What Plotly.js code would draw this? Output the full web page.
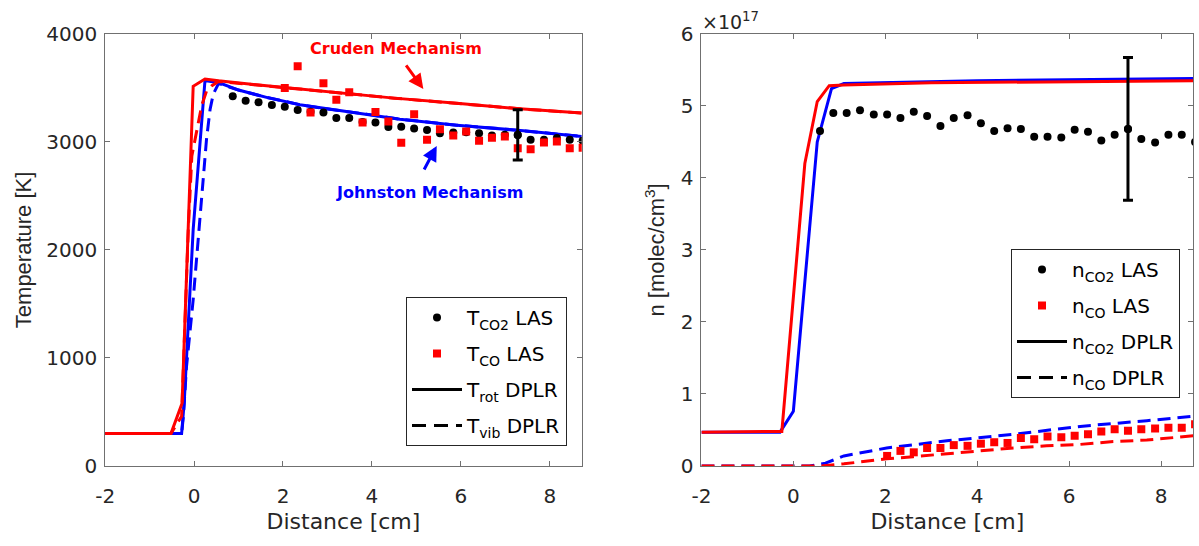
<!DOCTYPE html>
<html><head><meta charset="utf-8">
<script src="https://cdn.plot.ly/plotly-3.0.1.min.js"></script>
<style>html,body{margin:0;padding:0;background:#fff}#chart{width:1199px;height:546px}</style>
</head><body><div id="chart"></div>
<script>
// ---------- Left panel: temperature ----------
const distTCO2 = [0.87,1.16,1.45,1.75,2.04,2.33,2.62,2.91,3.20,3.49,3.79,4.08,4.37,4.66,4.95,5.24,5.53,5.83,6.12,6.41,6.70,6.99,7.28,7.57,7.87,8.16,8.45,8.74];
const tempCO2LAS = [3422,3381,3366,3341,3326,3295,3280,3273,3220,3220,3185,3180,3137,3140,3125,3109,3081,3088,3090,3081,3060,3065,3063,3019,3019,3035,3019,3010];
const distTCO = [2.04,2.33,2.62,2.91,3.20,3.49,3.79,4.08,4.37,4.66,4.95,5.24,5.53,5.83,6.12,6.41,6.70,6.99,7.28,7.57,7.87,8.16,8.45,8.74];
const tempCOLAS = [3499,3700,3273,3543,3390,3459,3180,3276,3188,2992,3256,3019,3118,3060,3097,3010,3038,3050,2942,2933,2995,3004,2942,2946];
const tErrX = [7.28], tErrY = [3063], tErrUp = [235], tErrDown = [230];

const johnRotX = [-2,-0.28,-0.22,-0.02,0.245,0.58,1.0,1.63,2.38,3.13,3.88,4.63,5.91,7.41,8.72];
const johnRotT = [300,300,600,2190,3567,3545,3480,3412,3344,3297,3257,3210,3155,3103,3050];
const johnVibX = [-2,-0.28,-0.24,-0.17,-0.02,0.13,0.21,0.28,0.36,0.43,0.55,1.0,1.63,2.38,3.13,3.88,4.63,5.91,7.41,8.72];
const johnVibT = [300,300,460,920,1540,2300,2650,3025,3300,3440,3540,3480,3412,3344,3297,3257,3210,3155,3103,3050];
const crudRotX = [-2,-0.52,-0.27,-0.02,0.245,0.55,1.63,3.13,4.5,5.91,7.41,8.72];
const crudRotT = [300,300,580,3515,3582,3565,3520,3459,3405,3357,3304,3267];
const crudVibX = [-2,-0.52,-0.28,-0.13,-0.05,0.06,0.17,0.28,0.40,0.55,1.63,3.13,4.5,5.91,7.41,8.72];
const crudVibT = [300,300,460,2190,2870,3090,3335,3470,3520,3560,3520,3459,3405,3357,3304,3267];

// ---------- Right panel: number density (x 1e17) ----------
const distNCO2 = [0.58,0.87,1.16,1.45,1.75,2.04,2.33,2.62,2.91,3.20,3.49,3.79,4.08,4.37,4.66,4.95,5.24,5.53,5.83,6.12,6.41,6.70,6.99,7.28,7.57,7.87,8.16,8.45,8.74];
const nCO2LAS = [4.65,4.90,4.90,4.94,4.88,4.88,4.83,4.92,4.86,4.72,4.83,4.87,4.76,4.65,4.69,4.68,4.57,4.57,4.56,4.67,4.64,4.52,4.60,4.68,4.54,4.49,4.60,4.60,4.50];
const distNCO = [2.04,2.33,2.62,2.91,3.20,3.49,3.79,4.08,4.37,4.66,4.95,5.24,5.53,5.83,6.12,6.41,6.70,6.99,7.28,7.57,7.87,8.16,8.45,8.74];
const nCOLAS = [0.14,0.21,0.19,0.25,0.25,0.29,0.28,0.31,0.33,0.32,0.39,0.37,0.41,0.40,0.42,0.44,0.48,0.51,0.49,0.51,0.52,0.53,0.53,0.58];
const nErrX = [7.28], nErrY = [4.68], nErrUp = [0.99], nErrDown = [0.99];

const johnNCO2X = [-2,-0.29,0.0,0.52,0.83,1.1,4,8.7];
const johnNCO2 = [0.47,0.47,0.76,4.5,5.24,5.31,5.35,5.38];
const crudNCO2X = [-2,-0.25,0.25,0.52,0.78,1.1,3,6,8.7];
const crudNCO2 = [0.47,0.48,4.2,5.06,5.28,5.29,5.32,5.34,5.35];
const johnNCOX = [-2,0.35,0.7,1.1,2.03,3.34,4.79,6.24,7.69,8.7];
const johnNCO = [0,0,0.04,0.14,0.25,0.35,0.44,0.55,0.63,0.69];
const crudNCOX = [-2,0.6,1.1,2.03,2.61,3.34,4.06,4.79,5.51,6.24,6.96,7.69,8.7];
const crudNCO = [0,0,0.03,0.10,0.13,0.17,0.22,0.25,0.28,0.30,0.34,0.36,0.42];

// ---------- tick labels & legend texts ----------
const xTickVals = [-2,0,2,4,6,8];
const xTickText = ['-2','0','2','4','6','8'];
const legendLeft = ['T<sub>CO2</sub> LAS','T<sub>CO</sub> LAS','T<sub>rot</sub> DPLR','T<sub>vib</sub> DPLR'];
const legendRight = ['n<sub>CO2</sub> LAS','n<sub>CO</sub> LAS','n<sub>CO2</sub> DPLR','n<sub>CO</sub> DPLR'];

const FONT = 'DejaVu Sans, Verdana, sans-serif';
const VFONT = 'Liberation Sans, Arial, Helvetica, sans-serif';
const TXT = '#262626';
const AXC = '#707070';
const RED = '#ff0000', BLUE = '#0000ff';
const DASH = '13px,7px';

function line(x, y, color, dash, xa, ya) {
  return {x, y, mode:'lines', line:{color, width:3, dash}, showlegend:false, hoverinfo:'skip', xaxis:xa, yaxis:ya};
}
function pts(x, y, color, symbol, size, xa, ya) {
  return {x, y, mode:'markers', marker:{color, symbol, size}, showlegend:false, xaxis:xa, yaxis:ya};
}
function errTrace(x, y, up, down, xa, ya) {
  return {x, y, mode:'markers', marker:{color:'black', size:8},
    error_y:{type:'data', symmetric:false, array:up, arrayminus:down, color:'black', thickness:3, width:5},
    showlegend:false, xaxis:xa, yaxis:ya};
}
function legItem(name, legend, group, spec, xa, ya) {
  return Object.assign({x:[null], y:[null], name, legend, legendgroup:group, showlegend:true, xaxis:xa, yaxis:ya}, spec);
}
const legSpecs = [
  {mode:'markers', marker:{color:'black', symbol:'circle', size:8}},
  {mode:'markers', marker:{color:RED, symbol:'square', size:8}},
  {mode:'lines', line:{color:'black', width:3}},
  {mode:'lines', line:{color:'black', width:3, dash:'14px,8px'}}
];

const data = [
  line(johnRotX, johnRotT, BLUE, 'solid', 'x', 'y'),
  line(johnVibX, johnVibT, BLUE, DASH, 'x', 'y'),
  line(crudRotX, crudRotT, RED, 'solid', 'x', 'y'),
  line(crudVibX, crudVibT, RED, DASH, 'x', 'y'),
  pts(distTCO2, tempCO2LAS, 'black', 'circle', 8, 'x', 'y'),
  pts(distTCO, tempCOLAS, RED, 'square', 8, 'x', 'y'),
  errTrace(tErrX, tErrY, tErrUp, tErrDown, 'x', 'y'),

  line(johnNCO2X, johnNCO2, BLUE, 'solid', 'x2', 'y2'),
  line(johnNCOX, johnNCO, BLUE, DASH, 'x2', 'y2'),
  line(crudNCO2X, crudNCO2, RED, 'solid', 'x2', 'y2'),
  line(crudNCOX, crudNCO, RED, DASH, 'x2', 'y2'),
  pts(distNCO2, nCO2LAS, 'black', 'circle', 8, 'x2', 'y2'),
  pts(distNCO, nCOLAS, RED, 'square', 8, 'x2', 'y2'),
  errTrace(nErrX, nErrY, nErrUp, nErrDown, 'x2', 'y2')
];
legendLeft.forEach((n, i) => data.push(legItem(n, 'legend', 'L' + i, legSpecs[i], 'x', 'y')));
legendRight.forEach((n, i) => data.push(legItem(n, 'legend2', 'R' + i, legSpecs[i], 'x2', 'y2')));

function ax(extra) {
  return Object.assign({showline:true, linecolor:AXC, linewidth:1, mirror:'ticks', ticks:'inside', ticklen:5,
    tickcolor:AXC, tickwidth:1, showgrid:false, zeroline:false, fixedrange:true,
    tickfont:{family:FONT, size:20, color:TXT}}, extra);
}
const yDom = [0.1465, 0.938];
const legStyle = {bgcolor:'white', bordercolor:'#262626', borderwidth:1, xanchor:'left', yanchor:'top',
  font:{family:FONT, size:20, color:'#000'}, itemwidth:50, tracegroupgap:7, traceorder:'grouped'};
const xTitle = {text:'Distance [cm]', font:{family:FONT, size:22, color:TXT}, standoff:6};

const layout = {
  width:1199, height:546, autosize:false,
  margin:{l:0, r:0, t:0, b:0},
  paper_bgcolor:'white', plot_bgcolor:'white',
  font:{family:FONT, color:TXT, size:20},
  xaxis: ax({domain:[0.0877,0.4852], range:[-2,8.72], tickvals:xTickVals, ticktext:xTickText, anchor:'y',
    ticklabelstandoff:12, title:xTitle}),
  yaxis: ax({domain:yDom, range:[0,4000], dtick:1000, anchor:'x', ticklabelstandoff:3,
    title:{text:'Temperature [K]', font:{family:VFONT, size:22, color:TXT}, standoff:8}}),
  xaxis2: ax({domain:[0.585,0.9952], range:[-2,8.70], tickvals:xTickVals, ticktext:xTickText, anchor:'y2',
    ticklabelstandoff:12, title:xTitle}),
  yaxis2: ax({domain:yDom, range:[0,6], dtick:1, anchor:'x2', ticklabelstandoff:3,
    title:{text:'n [molec/cm<sup>3</sup>]', font:{family:VFONT, size:22, color:TXT}, standoff:9}}),
  legend: Object.assign({x:406/1199, y:(546-297)/546}, legStyle),
  legend2: Object.assign({x:1011/1199, y:(546-249)/546}, legStyle),
  showlegend:true,
  annotations:[
    {xref:'x', yref:'y', x:4.54, y:3861, text:'<b>Cruden Mechanism</b>', showarrow:false,
     font:{family:FONT, size:16, color:RED}},
    {xref:'x', yref:'y', x:5.157, y:3490, axref:'x', ayref:'y', ax:4.745, ay:3722, text:'',
     showarrow:true, arrowhead:2, arrowsize:1, arrowwidth:3, arrowcolor:RED},
    {xref:'x', yref:'y', x:5.29, y:2531, text:'<b>Johnston Mechanism</b>', showarrow:false,
     font:{family:FONT, size:16, color:BLUE}},
    {xref:'x', yref:'y', x:5.458, y:2963, axref:'x', ayref:'y', ax:5.157, ay:2731, text:'',
     showarrow:true, arrowhead:2, arrowsize:1, arrowwidth:3, arrowcolor:BLUE},
    {xref:'paper', yref:'paper', x:700/1199, y:(546-21)/546, xanchor:'left', yanchor:'middle',
     text:'×10<sup>17</sup>', showarrow:false, font:{family:FONT, size:19, color:TXT}}
  ]
};

Plotly.newPlot('chart', data, layout, {displayModeBar:false, staticPlot:true});
</script></body></html>
